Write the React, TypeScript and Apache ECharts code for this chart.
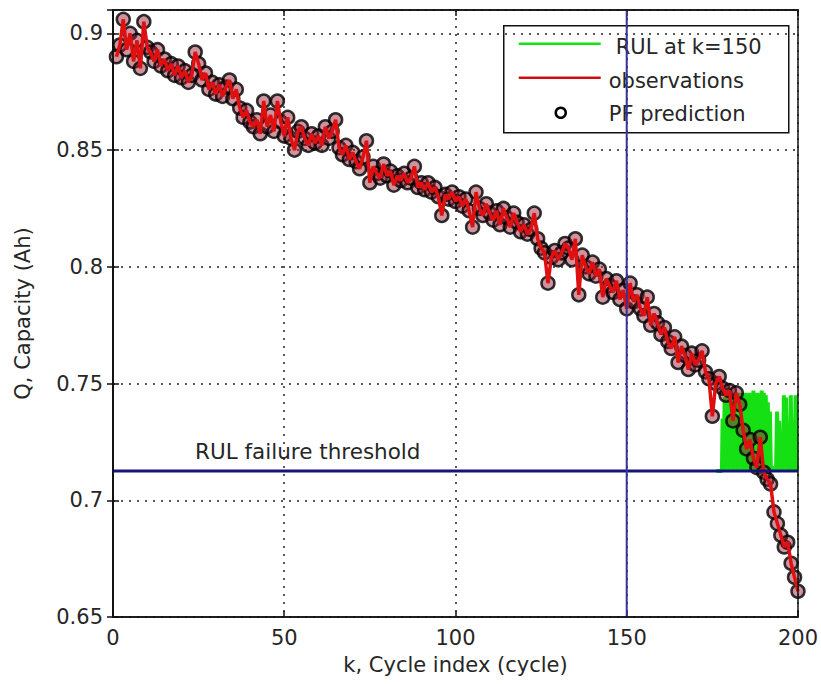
import React, { useEffect, useRef } from "react";
import * as echarts from "echarts";

// Capacity observations, k = 1..200
const capacity: number[] = [
  0.890, 0.895, 0.906, 0.893, 0.900, 0.888, 0.897, 0.885, 0.905, 0.894,
  0.892, 0.888, 0.893, 0.886, 0.889, 0.884, 0.887, 0.882, 0.886, 0.881,
  0.884, 0.879, 0.882, 0.892, 0.887, 0.880, 0.883, 0.876, 0.879, 0.874,
  0.878, 0.873, 0.877, 0.880, 0.872, 0.876, 0.868, 0.864, 0.867, 0.862,
  0.860, 0.863, 0.857, 0.871, 0.860, 0.865, 0.858, 0.871, 0.862, 0.856,
  0.864, 0.855, 0.850, 0.858, 0.860, 0.855, 0.852, 0.857, 0.853, 0.856,
  0.852, 0.860, 0.855, 0.858, 0.863, 0.851, 0.848, 0.852, 0.846, 0.849,
  0.845, 0.842, 0.847, 0.854, 0.836, 0.843, 0.840, 0.838, 0.844, 0.839,
  0.841, 0.835, 0.839, 0.837, 0.840, 0.836, 0.838, 0.843, 0.834, 0.836,
  0.833, 0.836, 0.832, 0.834, 0.830, 0.822, 0.831, 0.829, 0.832, 0.828,
  0.830, 0.826, 0.829, 0.824, 0.817, 0.832, 0.825, 0.822, 0.827, 0.823,
  0.820, 0.824, 0.818, 0.825, 0.821, 0.817, 0.823, 0.819, 0.815, 0.818,
  0.814, 0.816, 0.823, 0.812, 0.808, 0.806, 0.793, 0.804, 0.807, 0.803,
  0.806, 0.810, 0.808, 0.803, 0.812, 0.788, 0.805, 0.800, 0.797, 0.802,
  0.796, 0.799, 0.787, 0.795, 0.792, 0.789, 0.794, 0.786, 0.790, 0.782,
  0.793, 0.785, 0.788, 0.782, 0.779, 0.787, 0.775, 0.780, 0.776, 0.771,
  0.774, 0.768, 0.765, 0.770, 0.759, 0.766, 0.762, 0.756, 0.763, 0.758,
  0.760, 0.764, 0.755, 0.752, 0.736, 0.750, 0.753, 0.748, 0.745, 0.747,
  0.734, 0.746, 0.741, 0.730, 0.722, 0.726, 0.718, 0.714, 0.727, 0.712,
  0.709, 0.707, 0.695, 0.690, 0.685, 0.680, 0.682, 0.673, 0.667, 0.661,
];

// PF prediction (tracks the observations)
const pfPrediction: number[] = capacity.slice();

// RUL prediction trajectories at k=150: [k, Q]
const rulPath: [number, number][] = [
  [176.2, 0.7125], [177.8, 0.7125], [178.0, 0.735], [178.3, 0.713], [178.6, 0.744], [178.9, 0.713],
  [179.2, 0.745], [179.5, 0.714], [179.8, 0.746], [180.1, 0.713], [180.4, 0.744], [180.7, 0.715],
  [181.0, 0.746], [181.3, 0.713], [181.6, 0.745], [181.9, 0.714], [182.2, 0.746], [182.5, 0.713],
  [182.8, 0.745], [183.1, 0.714], [183.4, 0.746], [183.7, 0.713], [184.0, 0.745], [184.3, 0.713],
  [184.6, 0.746], [184.9, 0.714], [185.2, 0.745], [185.5, 0.713], [185.8, 0.746], [186.1, 0.714],
  [186.4, 0.745], [186.7, 0.713], [187.0, 0.747], [187.3, 0.714], [187.6, 0.745], [187.9, 0.713],
  [188.2, 0.746], [188.5, 0.714], [188.8, 0.745], [189.1, 0.713], [189.4, 0.747], [189.7, 0.714],
  [190.0, 0.746], [190.3, 0.713], [190.6, 0.745], [190.9, 0.714], [191.2, 0.742], [191.5, 0.713],
  [191.8, 0.738], [192.1, 0.713], [192.5, 0.714], [193.6, 0.713], [193.9, 0.738], [194.2, 0.720],
  [194.5, 0.734], [194.8, 0.713], [195.6, 0.713], [195.9, 0.745], [196.2, 0.714], [196.5, 0.744],
  [196.8, 0.713], [197.6, 0.713], [197.9, 0.745], [198.2, 0.713], [199.0, 0.713], [199.3, 0.745],
  [199.6, 0.713], [200.0, 0.713],
];

const failureThreshold = 0.7125;
const predictionStart = 150;
const xTicks = [0, 50, 100, 150, 200];
const yTicks = [0.65, 0.7, 0.75, 0.8, 0.85, 0.9];
const xRange = [0, 200];
const yRange = [0.65, 0.91];

const FONT = "DejaVu Sans";
const TXT = "#262626";

export default function App() {
  const ref = useRef<HTMLDivElement>(null);

  useEffect(() => {
    if (!ref.current) return;
    const chart = echarts.init(ref.current, undefined, { renderer: "svg" });

    const obs = capacity.map((v, i) => [i + 1, v]);
    const pf = pfPrediction.map((v, i) => [i + 1, v]);

    const axisCommon = {
      type: "value" as const,
      axisLine: { show: true, lineStyle: { color: "#111", width: 1.5 } },
      axisTick: { show: true, inside: true, length: 6, lineStyle: { color: "#111", width: 1.5 } },
    };

    chart.setOption({
      animation: false,
      backgroundColor: "#ffffff",
      grid: { left: 113, right: 23, top: 10, bottom: 67, show: false },
      xAxis: [
        {
          ...axisCommon,
          min: xRange[0],
          max: xRange[1],
          interval: xTicks[1] - xTicks[0],
          name: "k, Cycle index (cycle)",
          nameLocation: "middle",
          nameGap: 37,
          nameTextStyle: { fontFamily: FONT, fontSize: 21, color: TXT },
          axisLabel: { fontFamily: FONT, fontSize: 21, color: TXT, margin: 10 },
          splitLine: { show: true, lineStyle: { color: "#222", type: [2, 6], width: 1.5 } },
        },
        {
          ...axisCommon,
          position: "top",
          min: xRange[0],
          max: xRange[1],
          interval: xTicks[1] - xTicks[0],
          axisLabel: { show: false },
          splitLine: { show: false },
        },
      ],
      yAxis: [
        {
          ...axisCommon,
          min: yRange[0],
          max: yRange[1],
          interval: yTicks[1] - yTicks[0],
          name: "Q, Capacity (Ah)",
          nameLocation: "middle",
          nameGap: 80,
          nameRotate: 90,
          nameTextStyle: { fontFamily: FONT, fontSize: 21, color: TXT },
          axisLabel: {
            fontFamily: FONT,
            fontSize: 21,
            color: TXT,
            margin: 10,
            showMaxLabel: false,
            formatter: (v: number) => String(Math.round(v * 100) / 100),
          },
          splitLine: { show: true, lineStyle: { color: "#222", type: [2, 6], width: 1.5 } },
        },
        {
          ...axisCommon,
          position: "right",
          min: yRange[0],
          max: yRange[1],
          interval: yTicks[1] - yTicks[0],
          axisLabel: { show: false },
          splitLine: { show: false },
        },
      ],
      series: [
        {
          name: "RUL at k=150",
          type: "line",
          data: rulPath,
          showSymbol: false,
          symbol: "none",
          lineStyle: { color: "#14e014", width: 4, join: "bevel" },
          z: 1,
        },
        {
          name: "PF prediction",
          type: "scatter",
          data: pf,
          symbol: "circle",
          symbolSize: 13,
          itemStyle: { color: "rgba(150,30,55,0.6)", borderColor: "#000", borderWidth: 2.5 },
          z: 2,
        },
        {
          name: "observations",
          type: "line",
          data: obs,
          showSymbol: false,
          symbol: "none",
          lineStyle: { color: "#e01010", width: 3.5 },
          z: 3,
        },
        {
          name: "threshold",
          type: "line",
          data: [
            [xRange[0], failureThreshold],
            [xRange[1], failureThreshold],
          ],
          showSymbol: false,
          symbol: "none",
          lineStyle: { color: "#14147a", width: 3 },
          z: 4,
        },
        {
          name: "start",
          type: "line",
          data: [
            [predictionStart, yRange[0]],
            [predictionStart, yRange[1]],
          ],
          showSymbol: false,
          symbol: "none",
          lineStyle: { color: "#34349a", width: 2 },
          z: 4,
        },
      ],
      graphic: [
        {
          type: "rect",
          shape: { x: 113, y: 10, width: 685, height: 607 },
          style: { fill: "none", stroke: "#111", lineWidth: 1.5 },
          z: 100,
        },
        {
          type: "text",
          left: 195,
          top: 440,
          style: { text: "RUL failure threshold", fontFamily: FONT, fontSize: 21.5, fill: TXT },
          z: 100,
        },
        {
          type: "group",
          left: 503,
          top: 25,
          z: 110,
          children: [
            {
              type: "rect",
              shape: { x: 0, y: 0, width: 285, height: 107 },
              style: { fill: "#ffffff", stroke: "#111", lineWidth: 1.5 },
            },
            {
              type: "line",
              shape: { x1: 15, y1: 18, x2: 97, y2: 18 },
              style: { stroke: "#14e014", lineWidth: 2.5 },
            },
            {
              type: "text",
              x: 112,
              y: 21,
              style: { text: "RUL at k=150", fontFamily: FONT, fontSize: 21, fill: TXT, verticalAlign: "middle" },
            },
            {
              type: "line",
              shape: { x1: 15, y1: 52, x2: 97, y2: 52 },
              style: { stroke: "#d01010", lineWidth: 2.5 },
            },
            {
              type: "text",
              x: 105,
              y: 55,
              style: { text: "observations", fontFamily: FONT, fontSize: 21, fill: TXT, verticalAlign: "middle" },
            },
            {
              type: "circle",
              shape: { cx: 57, cy: 87, r: 5 },
              style: { fill: "none", stroke: "#000", lineWidth: 2.5 },
            },
            {
              type: "text",
              x: 105,
              y: 88,
              style: { text: "PF prediction", fontFamily: FONT, fontSize: 21, fill: TXT, verticalAlign: "middle" },
            },
          ],
        },
      ],
    });

    return () => chart.dispose();
  }, []);

  return (
    <div
      ref={ref}
      style={{ position: "fixed", left: 0, top: 0, width: 821, height: 684, background: "#fff" }}
    />
  );
}
